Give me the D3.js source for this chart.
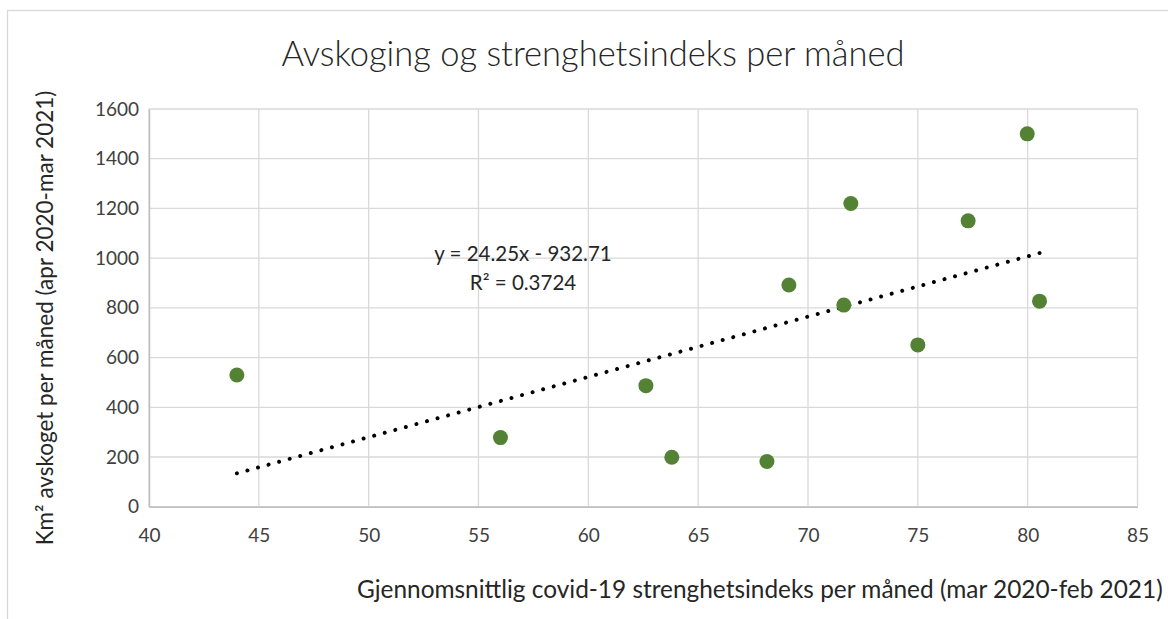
<!DOCTYPE html>
<html>
<head>
<meta charset="utf-8">
<script src="https://cdn.jsdelivr.net/npm/d3@7"></script>
<style>
  html, body { margin: 0; padding: 0; background: #fff; }
  svg { display: block; font-family: Lato, "Open Sans", sans-serif; }
</style>
</head>
<body>
<svg id="chart" width="1168" height="619"></svg>
<script>
// Monthly average stringency index vs. deforested area
const stringency = [44.0, 56.0, 62.62, 63.8, 68.13, 69.13, 71.63, 71.95, 75.0, 77.29, 79.98, 80.54];
const deforestedKm2 = [530, 278, 487, 199, 182, 892, 811, 1220, 651, 1150, 1500, 827];

const xTicks = [40, 45, 50, 55, 60, 65, 70, 75, 80, 85];
const yTicks = [0, 200, 400, 600, 800, 1000, 1200, 1400, 1600];

// Linear trendline
const slope = 24.25;
const intercept = -932.71;
const rSquared = "0.3724";

const titleText = "Avskoging og strenghetsindeks per måned";
const xTitle = "Gjennomsnittlig covid-19 strenghetsindeks per måned (mar 2020-feb 2021)";
const yTitle = "Km² avskoget per måned (apr 2020-mar 2021)";

const svg = d3.select("#chart");
const plot = { left: 149, right: 1137.5, top: 109, bottom: 506.7 };

// Outer chart frame
svg.append("rect")
  .attr("x", 7.5).attr("y", 10.5)
  .attr("width", 1200).attr("height", 700)
  .attr("fill", "#fff").attr("stroke", "#d9d9d9").attr("stroke-width", 1.3);

const x = d3.scaleLinear().domain([40, 85]).range([plot.left, plot.right]);
const y = d3.scaleLinear().domain([0, 1600]).range([plot.bottom, plot.top]);

// Gridlines
const grid = svg.append("g").attr("stroke", "#d9d9d9").attr("stroke-width", 1.3);
grid.selectAll("line.v").data(xTicks).join("line")
  .attr("x1", d => x(d)).attr("x2", d => x(d))
  .attr("y1", plot.top).attr("y2", plot.bottom);
grid.selectAll("line.h").data(yTicks).join("line")
  .attr("x1", plot.left).attr("x2", plot.right)
  .attr("y1", d => y(d)).attr("y2", d => y(d));

// Axes
const xAxis = svg.append("g")
  .attr("transform", `translate(0,${plot.bottom})`)
  .call(d3.axisBottom(x).tickValues(xTicks).tickSize(0).tickPadding(22).tickFormat(d3.format("d")));
const yAxis = svg.append("g")
  .attr("transform", `translate(${plot.left},0)`)
  .call(d3.axisLeft(y).tickValues(yTicks).tickSize(0).tickPadding(10).tickFormat(d3.format("d")));
[xAxis, yAxis].forEach(a => {
  a.select(".domain").attr("stroke", "#bfbfbf").attr("stroke-width", 1.5);
  a.selectAll("text").attr("fill", "#404040").style("font-size", "19px")
    .style("font-family", "Lato, 'Open Sans', sans-serif");
});

// Trendline across the data range, dots spaced to land on both ends
const xMin = d3.min(stringency), xMax = d3.max(stringency);
const tx1 = x(xMin), ty1 = y(slope * xMin + intercept);
const tx2 = x(xMax), ty2 = y(slope * xMax + intercept);
const trendLen = Math.hypot(tx2 - tx1, ty2 - ty1);
const gap = trendLen / Math.round(trendLen / 11);
const ext = 0.5 / trendLen; // small overrun so the final dot is drawn
svg.append("line")
  .attr("x1", tx1).attr("y1", ty1)
  .attr("x2", tx2 + (tx2 - tx1) * ext).attr("y2", ty2 + (ty2 - ty1) * ext)
  .attr("stroke", "#000").attr("stroke-width", 4)
  .attr("stroke-linecap", "round").attr("stroke-dasharray", `0.01 ${gap - 0.01}`);

// Points
svg.append("g").selectAll("circle")
  .data(stringency.map((v, i) => [v, deforestedKm2[i]]))
  .join("circle")
  .attr("cx", d => x(d[0])).attr("cy", d => y(d[1]))
  .attr("r", 7.5).attr("fill", "#548235");

// Trendline equation
const eq = svg.append("g").attr("fill", "#262626").style("font-size", "20.5px").attr("text-anchor", "middle");
eq.append("text").attr("x", 523).attr("y", 261)
  .text(`y = ${slope}x - ${Math.abs(intercept)}`);
eq.append("text").attr("x", 523).attr("y", 290).text(`R² = ${rSquared}`);

// Title
svg.append("text").attr("x", 593).attr("y", 66).attr("text-anchor", "middle")
  .attr("fill", "#262626").style("font-size", "34.5px").style("font-weight", 300)
  .text(titleText);

// Axis titles
svg.append("text").attr("x", 357).attr("y", 598)
  .attr("fill", "#262626").style("font-size", "24.4px")
  .text(xTitle);
svg.append("text")
  .attr("transform", "translate(53,318) rotate(-90)")
  .attr("text-anchor", "middle")
  .attr("fill", "#262626").style("font-size", "22.5px")
  .text(yTitle);
</script>
</body>
</html>
